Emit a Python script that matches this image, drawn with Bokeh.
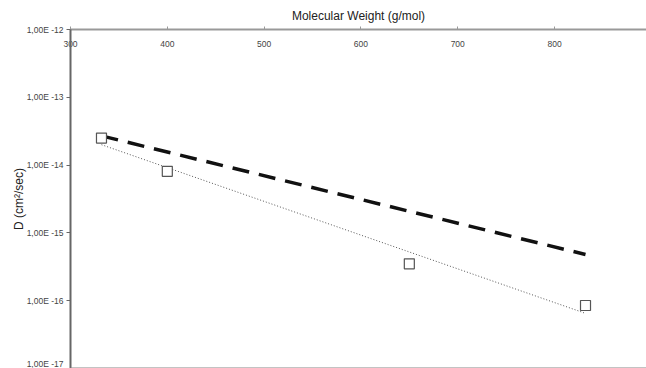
from bokeh.plotting import figure
from bokeh.models import LogAxis, LinearAxis, FixedTicker, Range1d, Span
from bokeh.embed import file_html
from bokeh.resources import INLINE

# data
mw_points = [332, 400, 650, 832]
d_points = [2.5e-14, 8.1e-15, 3.5e-16, 8.5e-17]
mw_dash = [332, 832]
d_dash = [2.7e-14, 4.8e-16]
mw_fit = [332, 832]
d_fit = [2.0e-14, 6.5e-17]

x_ticks = [300, 400, 500, 600, 700, 800, 900]
y_ticks = [1e-12, 1e-13, 1e-14, 1e-15, 1e-16, 1e-17]
y_tick_labels = ["1,00E -12", "1,00E -13", "1,00E -14", "1,00E -15", "1,00E -16", "1,00E -17"]

FONT = "Liberation Sans"

p = figure(width=646, height=368, output_backend="svg", toolbar_location=None,
           x_range=Range1d(300, 895), y_range=Range1d(1e-17, 1e-12),
           y_axis_type="log", x_axis_location=None, y_axis_location=None,
           min_border_left=70, min_border_top=29, min_border_right=0, min_border_bottom=0)
p.outline_line_color = None
p.xgrid.visible = False
p.ygrid.visible = False
p.background_fill_color = "white"
p.border_fill_color = "white"

xa = LinearAxis(ticker=FixedTicker(ticks=x_ticks), axis_label="Molecular Weight (g/mol)")
xa.axis_line_color = "#999999"
xa.axis_line_width = 2
xa.major_tick_line_color = "#999999"
xa.major_tick_out = 3
xa.major_tick_in = 0
xa.minor_tick_line_color = None
xa.major_label_standoff = -20
xa.major_label_text_font = FONT
xa.major_label_text_font_size = "8.5px"
xa.major_label_text_color = "#444444"
xa.axis_label_text_font = FONT
xa.axis_label_text_font_size = "12px"
xa.axis_label_text_font_style = "normal"
xa.axis_label_text_color = "#222222"
xa.axis_label_standoff = 15
p.add_layout(xa, "above")

ya = LogAxis(ticker=FixedTicker(ticks=y_ticks), axis_label="D (cm²/sec)")
ya.major_label_overrides = {t: l for t, l in zip(y_ticks, y_tick_labels)}
ya.axis_line_color = "#666666"
ya.axis_line_width = 2
ya.major_tick_line_color = "#666666"
ya.major_tick_out = 4
ya.major_tick_in = 0
ya.minor_tick_line_color = None
ya.major_label_standoff = 3
ya.major_label_text_font = FONT
ya.major_label_text_font_size = "8.5px"
ya.major_label_text_color = "#444444"
ya.axis_label_text_font = FONT
ya.axis_label_text_font_size = "12px"
ya.axis_label_text_font_style = "normal"
ya.axis_label_text_color = "#222222"
ya.axis_label_standoff = -2
p.add_layout(ya, "left")

p.add_layout(Span(location=1e-17, dimension="width", line_color="#888888", line_width=2))

p.line(mw_fit, d_fit, line_color="#555555", line_width=1, line_dash="1 2")
p.line(mw_dash, d_dash, line_color="#111111", line_width=3.5, line_dash="17 10")
p.scatter(mw_points, d_points, marker="square", size=10, fill_color="white",
          line_color="#555555", line_width=1.2)

open("out.html", "w").write(file_html(p, INLINE))
